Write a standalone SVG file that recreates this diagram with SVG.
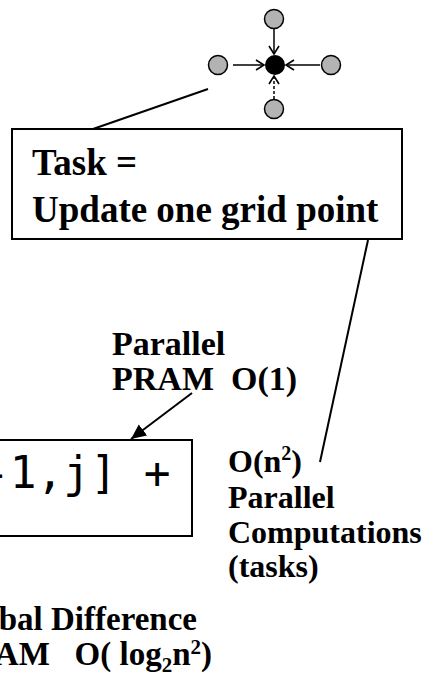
<svg xmlns="http://www.w3.org/2000/svg" width="423" height="686" viewBox="0 0 423 686">
<style>
.b{font-family:"Liberation Serif","Times New Roman",serif;font-weight:bold;fill:#000}
.mono{font-family:"DejaVu Sans Mono",monospace;fill:#000}
.box{fill:#fff;stroke:#000;stroke-width:2}
.ln{stroke:#000;fill:none}
.g{fill:#b3b3b3;stroke:#000;stroke-width:1.5}
</style>
<defs>
<marker id="v" markerUnits="userSpaceOnUse" markerWidth="14" markerHeight="14" refX="9" refY="6" orient="auto">
<path d="M1,1 L9,6 L1,11" fill="none" stroke="#000" stroke-width="1.6"/>
</marker>
<marker id="tri" markerUnits="userSpaceOnUse" markerWidth="18" markerHeight="16" refX="15" refY="7" orient="auto">
<path d="M0,0 L15,7 L0,14 Z" fill="#000"/>
</marker>
</defs>
<g id="connectors">
<line class="ln" x1="274" y1="29" x2="274" y2="54" stroke-width="1.5" marker-end="url(#v)"/>
<line class="ln" x1="233" y1="65" x2="264" y2="65" stroke-width="1.5" marker-end="url(#v)"/>
<line class="ln" x1="320" y1="65" x2="286" y2="65" stroke-width="1.5" marker-end="url(#v)"/>
<line class="ln" x1="274" y1="99" x2="274" y2="76" stroke-width="1.5" stroke-dasharray="3,2" marker-end="url(#v)"/>
<line class="ln" x1="93" y1="129" x2="208" y2="89" stroke-width="2"/>
<line class="ln" x1="368" y1="240" x2="320" y2="462" stroke-width="2"/>
<line class="ln" x1="192" y1="393" x2="131" y2="439" stroke-width="2" marker-end="url(#tri)"/>
</g>
<g id="grid">
<circle class="g" cx="274" cy="19" r="9.5"/>
<circle class="g" cx="218" cy="65" r="9.5"/>
<circle class="g" cx="331" cy="65" r="9.5"/>
<circle class="g" cx="274" cy="109" r="9.5"/>
<circle cx="275" cy="65" r="10" fill="#000"/>
</g>
<g id="task">
<rect class="box" x="12" y="129" width="390" height="110"/>
<text class="b" x="32" y="175" font-size="37">Task =</text>
<text class="b" x="32" y="222" font-size="37">Update one grid point</text>
</g>
<g id="pram-label">
<text class="b" x="112" y="355" font-size="34">Parallel</text>
<text class="b" x="112" y="390" font-size="34" xml:space="preserve">PRAM  O(1)</text>
</g>
<g id="code">
<rect class="box" x="-10" y="440" width="202" height="96"/>
<text class="mono" x="-17" y="488" font-size="44.5" xml:space="preserve">-1,j] +</text>
</g>
<g id="tasks-label">
<text class="b" x="228" y="472" font-size="32">O(n<tspan font-size="20" dy="-12">2</tspan><tspan dy="12">)</tspan></text>
<text class="b" x="228" y="508" font-size="32">Parallel</text>
<text class="b" x="228" y="543" font-size="32">Computations</text>
<text class="b" x="228" y="577" font-size="32">(tasks)</text>
</g>
<g id="global-label">
<text class="b" x="197" y="630" font-size="33" text-anchor="end">bal Difference</text>
<text class="b" x="212" y="665" font-size="33" text-anchor="end" xml:space="preserve">AM   O( log<tspan font-size="21" dy="7">2</tspan><tspan dy="-7">n</tspan><tspan font-size="21" dy="-11">2</tspan><tspan dy="11">)</tspan></text>
</g>
</svg>
